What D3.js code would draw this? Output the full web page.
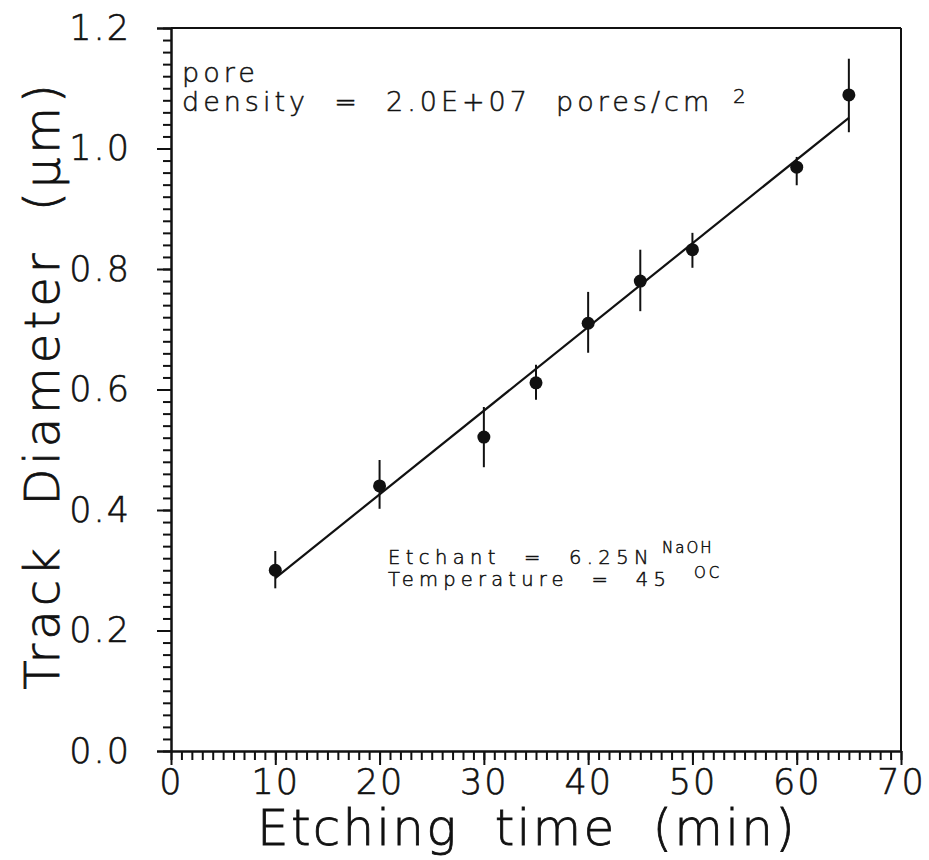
<!DOCTYPE html>
<html>
<head>
<meta charset="utf-8">
<script src="https://cdn.jsdelivr.net/npm/d3@7"></script>
<style>
  body { margin: 0; background: #fff; }
  svg { font-family: "DejaVu Sans", sans-serif; }
  .axis path, .axis line { stroke: #111; stroke-width: 2; }
  .axis text { font-family: "DejaVu Sans", sans-serif; font-weight: 200; fill: #111; stroke: #111; stroke-width: 0.6; }
  .note { fill: #111; font-weight: 200; stroke: #111; stroke-width: 0.5; }
  .title { fill: #111; font-weight: 200; stroke: #111; stroke-width: 0.8; }
</style>
</head>
<body>
<svg id="chart"></svg>
<script>
var w = 929,
    h = 860;

var margin = {
    top: 28,
    right: 28,
    bottom: 109,
    left: 171
},
    width = w - margin.left - margin.right,
    height = h - margin.top - margin.bottom;

// data
var etchTime  = [10, 20, 30, 35, 40, 45, 50, 60, 65];
var diameter  = [0.300, 0.440, 0.521, 0.611, 0.710, 0.780, 0.832, 0.969, 1.089];
var errLow    = [0.270, 0.402, 0.471, 0.583, 0.661, 0.730, 0.802, 0.939, 1.027];
var errHigh   = [0.332, 0.483, 0.571, 0.641, 0.762, 0.832, 0.860, 0.986, 1.149];

// fitted line end points
var fitX = [10, 65];
var fitY = [0.287, 1.051];

var xTicks = [0, 10, 20, 30, 40, 50, 60, 70];
var yTicks = [0.0, 0.2, 0.4, 0.6, 0.8, 1.0, 1.2];

var NB = "\u00a0\u00a0";

var points = etchTime.map(function(t, i) {
    return { t: t, d: diameter[i], lo: errLow[i], hi: errHigh[i] };
});

var x = d3.scaleLinear().domain([0, 70]).range([0, width]);
var y = d3.scaleLinear().domain([0, 1.2]).range([height, 0]);

var svg = d3.select("#chart")
    .attr("width", w)
    .attr("height", h);

var g = svg.append("g")
    .attr("transform", "translate(" + margin.left + "," + margin.top + ")");

// minor ticks
g.append("g")
    .attr("class", "axis")
    .attr("transform", "translate(0," + height + ")")
    .call(d3.axisBottom(x).tickValues(d3.range(0, 71, 1)).tickFormat("").tickSize(9).tickSizeOuter(0));

g.append("g")
    .attr("class", "axis")
    .call(d3.axisLeft(y).tickValues(d3.range(0, 61).map(function(i) { return i * 0.02; })).tickFormat("").tickSize(8).tickSizeOuter(0));

// major ticks with labels
g.append("g")
    .attr("class", "axis x-axis")
    .attr("transform", "translate(0," + height + ")")
    .call(d3.axisBottom(x).tickValues(xTicks).tickFormat(d3.format("d")).tickSize(14).tickSizeOuter(0).tickPadding(4))
    .selectAll("text")
    .attr("font-size", 35)
    .attr("letter-spacing", 2);

g.append("g")
    .attr("class", "axis y-axis")
    .call(d3.axisLeft(y).tickValues(yTicks).tickFormat(d3.format(".1f")).tickSize(14).tickPadding(26))
    .selectAll("text")
    .attr("font-size", 35)
    .attr("letter-spacing", 2);

// frame top and right
g.append("line").attr("x1", 0).attr("x2", width).attr("y1", 0).attr("y2", 0)
    .attr("stroke", "#111").attr("stroke-width", 2);
g.append("line").attr("x1", width).attr("x2", width).attr("y1", 0).attr("y2", height)
    .attr("stroke", "#111").attr("stroke-width", 2);

// fit line
g.append("line")
    .attr("x1", x(fitX[0])).attr("y1", y(fitY[0]))
    .attr("x2", x(fitX[1])).attr("y2", y(fitY[1]))
    .attr("stroke", "#111").attr("stroke-width", 2.2);

// error bars
g.selectAll(".err")
    .data(points)
    .enter()
    .append("line")
    .attr("class", "err")
    .attr("x1", function(d) { return x(d.t); })
    .attr("x2", function(d) { return x(d.t); })
    .attr("y1", function(d) { return y(d.lo); })
    .attr("y2", function(d) { return y(d.hi); })
    .attr("stroke", "#111")
    .attr("stroke-width", 2);

// points
g.selectAll(".dot")
    .data(points)
    .enter()
    .append("circle")
    .attr("class", "dot")
    .attr("cx", function(d) { return x(d.t); })
    .attr("cy", function(d) { return y(d.d); })
    .attr("r", 6.5)
    .attr("fill", "#111");

// annotations
var note1 = svg.append("text").attr("class", "note")
    .attr("x", 182).attr("y", 82).attr("font-size", 27).attr("letter-spacing", 4);
note1.append("tspan").text("pore");
note1.append("tspan").attr("x", 182).attr("dy", 29)
    .text("density" + NB + "=" + NB + "2.0E+07" + NB + "pores/cm");
svg.append("text").attr("class", "note")
    .attr("x", 733).attr("y", 103).attr("font-size", 20).text("2");

svg.append("text").attr("class", "note")
    .attr("x", 388).attr("y", 564).attr("font-size", 19.5).attr("letter-spacing", 5.4)
    .text("Etchant" + NB + "=" + NB + "6.25N");
svg.append("text").attr("class", "note")
    .attr("x", 662).attr("y", 553).attr("font-size", 15).attr("letter-spacing", 2)
    .text("NaOH");
svg.append("text").attr("class", "note")
    .attr("x", 388).attr("y", 586).attr("font-size", 19.5).attr("letter-spacing", 5.2)
    .text("Temperature" + NB + "=" + NB + "45");
svg.append("text").attr("class", "note")
    .attr("x", 694).attr("y", 578).attr("font-size", 15).attr("letter-spacing", 3)
    .text("OC");

// axis titles
svg.append("text").attr("class", "title")
    .attr("x", 527).attr("y", 845)
    .attr("text-anchor", "middle").attr("font-size", 50).attr("letter-spacing", 2.2)
    .text("Etching" + NB + "time" + NB + "(min)");

svg.append("text").attr("class", "title")
    .attr("transform", "translate(59,385) rotate(-90)")
    .attr("text-anchor", "middle").attr("font-size", 48).attr("letter-spacing", 4)
    .text("Track" + NB + "Diameter" + NB + "(\u03bcm)");
</script>
</body>
</html>
